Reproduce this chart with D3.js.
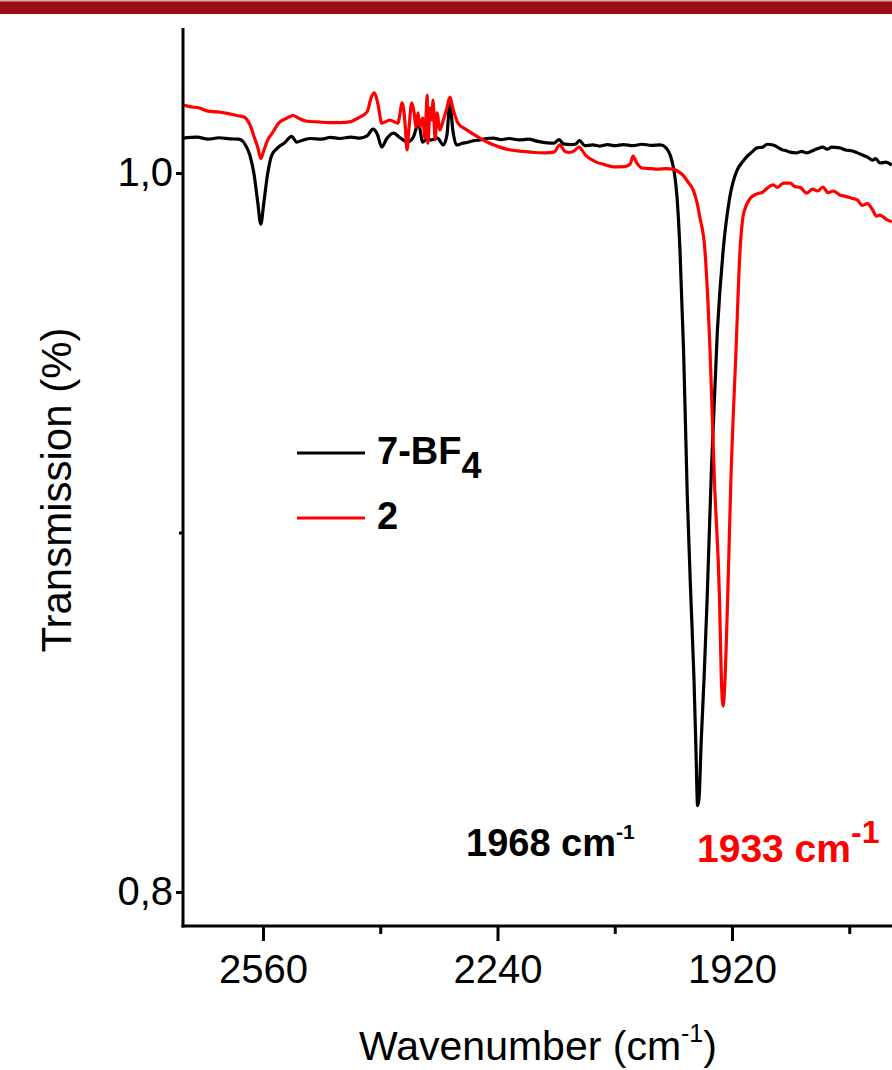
<!DOCTYPE html>
<html><head><meta charset="utf-8">
<script src="https://cdn.jsdelivr.net/npm/d3@7"></script>
<style>html,body{margin:0;padding:0;background:#fff;} svg{display:block;}</style>
</head><body>
<svg id="chart" width="892" height="1070"></svg>
<script>
// ---- data (wavenumber cm-1, transmission) ----
const seriesNames = ["7-BF4", "2"];
const seriesColors = ["#000000", "#ff0000"];
const yTickValues = [0.8, 1.0];
const yTickLabels = ["0,8", "1,0"];
const yMinorTicks = [0.9];
const xTickValues = [2560, 2240, 1920];
const xTickLabels = ["2560", "2240", "1920"];
const xMinorTicks = [2400, 2080, 1760];
const peakLabels = ["1968 cm", "1933 cm"];

const bf4 = [
 [2669,1.0097],[2650,1.0100],[2635,1.0094],[2620,1.0098],[2605,1.0095],[2593,1.0094],[2584,1.0078],[2578,1.0050],
 [2572,0.9994],[2567,0.9915],[2563,0.9858],[2559,0.9915],[2554,0.9994],[2548,1.0050],[2540,1.0070],[2530,1.0085],
 [2521,1.0102],[2514,1.0086],[2505,1.0092],[2495,1.0096],[2480,1.0094],[2468,1.0099],[2455,1.0096],[2440,1.0100],
 [2428,1.0097],[2418,1.0103],[2410,1.0122],[2404,1.0108],[2398,1.0072],[2391,1.0096],[2382,1.0111],[2373,1.0098],
 [2363,1.0086],[2355,1.0099],[2348,1.0139],[2342,1.0086],[2336,1.0095],[2330,1.0092],[2322,1.0097],[2314,1.0078],
 [2309,1.0106],[2305,1.0195],[2301,1.0120],[2296,1.0078],[2289,1.0082],[2282,1.0085],[2272,1.0090],[2264,1.0092],
 [2255,1.0096],[2246,1.0097],[2235,1.0093],[2224,1.0096],[2210,1.0092],[2198,1.0094],[2185,1.0088],[2172,1.0084],
 [2163,1.0083],[2156,1.0093],[2150,1.0081],[2140,1.0079],[2134,1.0080],[2128,1.0090],[2121,1.0076],[2110,1.0078],
 [2100,1.0075],[2090,1.0079],[2080,1.0076],[2068,1.0079],[2055,1.0076],[2043,1.0080],[2030,1.0077],[2018,1.0078],
 [2010,1.0070],[2004,1.0048],[1999,1.0005],[1995,0.9933],[1991,0.9786],[1986,0.9500],[1981,0.9100],[1976,0.8812],
 [1972,0.8600],[1969,0.8380],[1967,0.8240],[1965,0.8260],[1962,0.8420],[1958,0.8600],[1954,0.8812],[1948,0.9180],
 [1940,0.9560],[1932,0.9786],[1923,0.9933],[1913,1.0008],[1906,1.0030],[1900,1.0045],[1893,1.0058],[1886,1.0070],
 [1878,1.0072],[1872,1.0080],[1864,1.0078],[1858,1.0072],[1852,1.0065],[1846,1.0062],[1841,1.0058],[1832,1.0056],
 [1825,1.0060],[1818,1.0056],[1810,1.0062],[1803,1.0068],[1796,1.0072],[1790,1.0066],[1784,1.0072],[1773,1.0070],
 [1765,1.0064],[1757,1.0062],[1749,1.0056],[1742,1.0050],[1735,1.0044],[1728,1.0036],[1724,1.0040],[1718,1.0028],
 [1710,1.0030],[1702,1.0022]
];

const comp2 = [
 [2669,1.0189],[2658,1.0184],[2647,1.0181],[2635,1.0172],[2622,1.0170],[2609,1.0166],[2596,1.0160],[2586,1.0156],
 [2578,1.0135],[2572,1.0100],[2567,1.0070],[2563,1.0040],[2559,1.0062],[2554,1.0090],[2547,1.0112],[2538,1.0140],
 [2528,1.0152],[2519,1.0160],[2511,1.0152],[2500,1.0144],[2485,1.0142],[2470,1.0140],[2454,1.0140],[2440,1.0143],
 [2430,1.0153],[2418,1.0170],[2412,1.0212],[2408,1.0223],[2403,1.0190],[2398,1.0139],[2387,1.0147],[2376,1.0139],
 [2370,1.0195],[2366,1.0134],[2363.5,1.0064],[2361,1.0120],[2357,1.0195],[2354,1.0170],[2351,1.0128],[2348.5,1.0167],
 [2346,1.0128],[2342,1.0153],[2339,1.0097],[2336,1.0217],[2335,1.0083],[2332,1.0181],[2329.4,1.0147],[2328,1.0203],
 [2325,1.0092],[2322.6,1.0167],[2318.5,1.0120],[2314,1.0147],[2309,1.0181],[2305,1.0211],[2301,1.0181],[2294,1.0139],
 [2282,1.0120],[2264,1.0097],[2250,1.0082],[2237,1.0072],[2222,1.0064],[2205,1.0060],[2190,1.0057],[2175,1.0056],
 [2163,1.0058],[2155,1.0078],[2148,1.0060],[2142,1.0057],[2135,1.0062],[2129,1.0072],[2120,1.0050],[2106,1.0031],
 [2095,1.0024],[2082,1.0017],[2066,1.0018],[2059,1.0025],[2055,1.0047],[2050,1.0028],[2043,1.0014],[2030,1.0012],
 [2022,1.0011],[2010,1.0012],[2001,1.0011],[1993,1.0004],[1987,0.9994],[1980,0.9975],[1973,0.9953],[1968,0.9920],
 [1964,0.9878],[1957,0.9786],[1950,0.9508],[1944,0.9146],[1937,0.8812],[1934.5,0.8590],[1932,0.8517],[1929.6,0.8590],
 [1926,0.8812],[1921.5,0.9146],[1914.5,0.9508],[1909,0.9786],[1905,0.9878],[1900,0.9912],[1895,0.9930],[1886,0.9942],
 [1878,0.9947],[1872,0.9958],[1864,0.9967],[1858,0.9960],[1850,0.9972],[1841,0.9972],[1834,0.9962],[1827,0.9960],
 [1818,0.9944],[1810,0.9955],[1803,0.9950],[1796,0.9961],[1789,0.9945],[1782,0.9950],[1773,0.9939],[1765,0.9935],
 [1757,0.9930],[1749,0.9925],[1742,0.9910],[1735,0.9915],[1728,0.9897],[1723,0.9880],[1718,0.9883],[1710,0.9872],
 [1702,0.9864]
];

const seriesData = [bf4, comp2];

// ---- drawing ----
const svg = d3.select("#chart");
const W = 892, H = 1070;
const plotLeft = 183, plotTop = 28, plotBottom = 926, plotRight = 892;
const FONT = "'Liberation Sans', Arial, sans-serif";

const x = d3.scaleLinear().domain([2560, 1920]).range([263, 732]);
const y = d3.scaleLinear().domain([0.8, 1.0]).range([892, 173]);

// top banner
svg.append("rect").attr("x", 0).attr("y", 1).attr("width", W).attr("height", 13).attr("fill", "#9a0e17");
svg.append("rect").attr("x", 0).attr("y", 0).attr("width", W).attr("height", 1.5).attr("fill", "#d9a9ab");

// clip
svg.append("defs").append("clipPath").attr("id", "plotclip")
  .append("rect").attr("x", plotLeft).attr("y", plotTop).attr("width", plotRight - plotLeft).attr("height", plotBottom - plotTop);

const line = d3.line().x(d => x(d[0])).y(d => y(d[1])).curve(d3.curveMonotoneX);
const g = svg.append("g").attr("clip-path", "url(#plotclip)");
seriesData.forEach((s, i) => {
  g.append("path").datum(s).attr("d", line)
   .attr("fill", "none").attr("stroke", seriesColors[i]).attr("stroke-width", 3.2)
   .attr("stroke-linejoin", "round");
});

// axes
const yAxis = d3.axisLeft(y).tickValues(yTickValues).tickSize(7).tickPadding(3)
  .tickFormat((d, i) => yTickLabels[i]);
const yAx = svg.append("g").attr("transform", `translate(${plotLeft},0)`).call(yAxis);
const yMinor = d3.axisLeft(y).tickValues(yMinorTicks).tickSize(4).tickFormat("");
const yAxM = svg.append("g").attr("transform", `translate(${plotLeft},0)`).call(yMinor);

const xAxis = d3.axisBottom(x).tickValues(xTickValues).tickSize(15).tickPadding(12)
  .tickFormat((d, i) => xTickLabels[i]);
const xAx = svg.append("g").attr("transform", `translate(0,${plotBottom})`).call(xAxis);
const xMinor = d3.axisBottom(x).tickValues(xMinorTicks).tickSize(8).tickFormat("");
const xAxM = svg.append("g").attr("transform", `translate(0,${plotBottom})`).call(xMinor);

[yAx, yAxM, xAx, xAxM].forEach(a => {
  a.select(".domain").remove();
  a.selectAll(".tick line").attr("stroke", "#000").attr("stroke-width", 3);
  a.selectAll(".tick text").attr("font-family", FONT).attr("font-size", 40).attr("fill", "#000");
});
yAx.selectAll(".tick text").attr("dy", "0.3em");
xAx.selectAll(".tick text").attr("dy", "0.75em");

// axis lines
svg.append("line").attr("x1", plotLeft).attr("x2", plotLeft).attr("y1", plotTop).attr("y2", plotBottom + 1.5)
  .attr("stroke", "#000").attr("stroke-width", 3);
svg.append("line").attr("x1", plotLeft - 1.5).attr("x2", plotRight).attr("y1", plotBottom).attr("y2", plotBottom)
  .attr("stroke", "#000").attr("stroke-width", 3);

// axis titles
const xt = svg.append("text").attr("x", 538).attr("y", 1060).attr("text-anchor", "middle")
  .attr("font-family", FONT).attr("font-size", 41).attr("fill", "#000");
xt.append("tspan").text("Wavenumber (cm");
xt.append("tspan").attr("font-size", 25).attr("dy", -18).text("-1");
xt.append("tspan").attr("dy", 18).text(")");

svg.append("text").attr("transform", "translate(71,490) rotate(-90)").attr("text-anchor", "middle")
  .attr("font-family", FONT).attr("font-size", 42).attr("fill", "#000").text("Transmission (%)");

// legend
const legendY = [453, 518];
const legendText = [["7-BF", "4"], ["2", ""]];
seriesNames.forEach((n, i) => {
  svg.append("line").attr("x1", 297).attr("x2", 365).attr("y1", legendY[i]).attr("y2", legendY[i])
    .attr("stroke", seriesColors[i]).attr("stroke-width", 3);
  const t = svg.append("text").attr("x", 377).attr("y", legendY[i] + 11)
    .attr("font-family", FONT).attr("font-weight", "bold").attr("font-size", 38).attr("fill", "#000");
  t.append("tspan").text(legendText[i][0]);
  if (legendText[i][1]) t.append("tspan").attr("dy", 14).attr("font-size", 36).text(legendText[i][1]);
});

// peak annotations
const a1 = svg.append("text").attr("x", 466).attr("y", 856)
  .attr("font-family", FONT).attr("font-weight", "bold").attr("font-size", 38).attr("fill", "#000");
a1.append("tspan").text(peakLabels[0]);
a1.append("tspan").attr("font-size", 21).attr("dy", -17).text("-1");

const a2 = svg.append("text").attr("x", 697).attr("y", 862)
  .attr("font-family", FONT).attr("font-weight", "bold").attr("font-size", 39).attr("fill", "#ff0000");
a2.append("tspan").text(peakLabels[1]);
a2.append("tspan").attr("font-size", 32).attr("dy", -19).text("-1");
</script>
</body></html>
